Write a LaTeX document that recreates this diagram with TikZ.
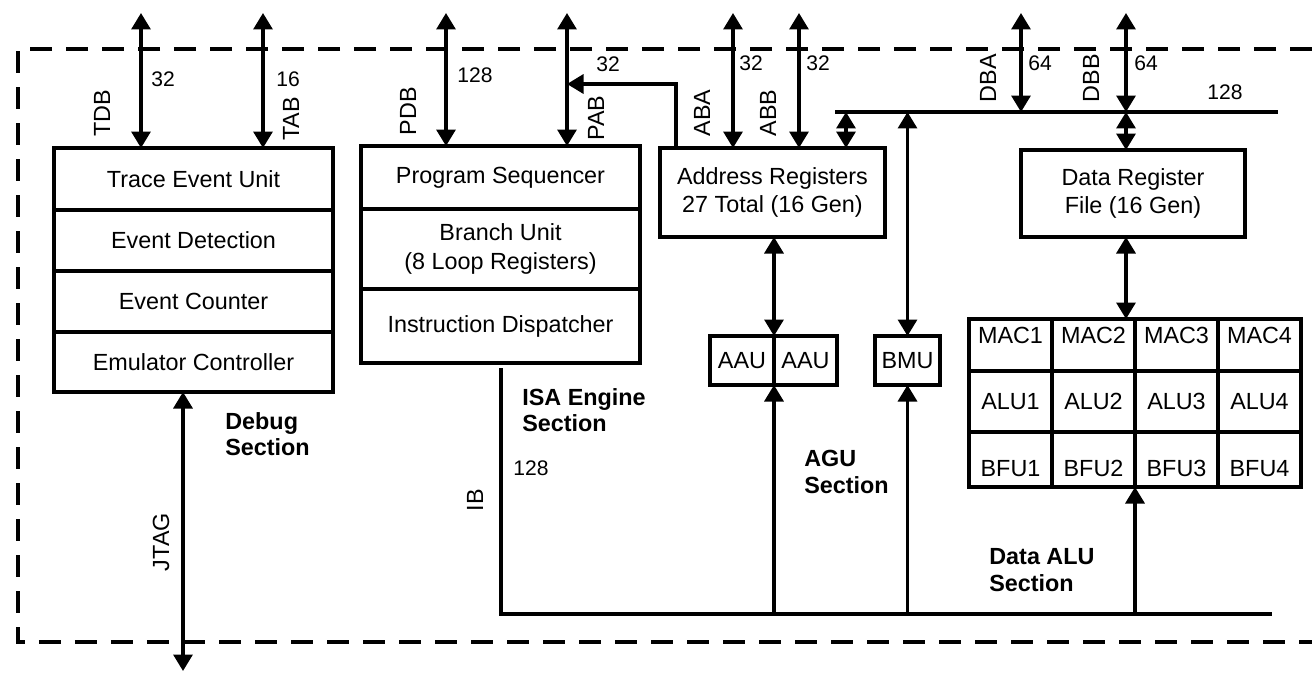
\documentclass[tikz,border=0pt]{standalone}
\usepackage{fontspec}
\setmainfont{Liberation Sans}
\usetikzlibrary{arrows.meta,positioning,calc}
\def\pxu{0.02cm}
\tikzset{
  blk/.style={draw, line width=1.9pt, inner sep=0pt, outer sep=0pt, align=center,
    font=\fontsize{13.3}{16}\selectfont},
  cell/.style={blk, minimum width=83*\pxu},
  lbl/.style={font=\fontsize{12}{14}\selectfont, inner sep=0pt, anchor=west},
  vlbl/.style={font=\fontsize{13.3}{16}\selectfont, inner sep=0pt, rotate=90},
  sect/.style={font=\bfseries\fontsize{13.3}{15}\selectfont, align=left, anchor=west, inner sep=0pt},
  wire/.style={line width=1.9pt},
  bi/.style={wire, {Triangle[length=0.33cm,width=0.38cm]}-{Triangle[length=0.33cm,width=0.38cm]}},
  uni/.style={wire, -{Triangle[length=0.33cm,width=0.38cm]}},
  border/.style={line width=1.9pt, dash pattern=on 22*\pxu off 14*\pxu},
}
\begin{document}
\begin{tikzpicture}[x=0.02cm, y=-0.02cm]
  \useasboundingbox (0,0) rectangle (1312,673);
  % section outline
  \draw[border] (1312,49) -- (18,49) -- (18,642) -- (1312,642);

  % debug section
  \node[blk, minimum width=279*\pxu, minimum height=62*\pxu, anchor=north] (trace) at (193.5,148) {Trace Event Unit};
  \node[blk, minimum width=279*\pxu, minimum height=61*\pxu, below=0pt of trace] (detect) {Event Detection};
  \node[blk, minimum width=279*\pxu, minimum height=61*\pxu, below=0pt of detect] (counter) {Event Counter};
  \node[blk, minimum width=279*\pxu, minimum height=60*\pxu, below=0pt of counter] (emu) {Emulator Controller};
  \node[sect] (dbgSec) at (225,434) {Debug\\Section};

  % ISA engine section
  \node[blk, minimum width=279*\pxu, minimum height=63*\pxu, anchor=north] (seq) at (500.5,146) {Program Sequencer};
  \node[blk, minimum width=279*\pxu, minimum height=80*\pxu, below=0pt of seq] (branch) {Branch Unit\\(8 Loop Registers)};
  \node[blk, minimum width=279*\pxu, minimum height=74*\pxu, below=0pt of branch] (disp) {Instruction Dispatcher};
  \node[sect] (isaSec) at (522,410) {ISA Engine\\Section};

  % AGU section
  \node[blk, minimum width=225*\pxu, minimum height=89*\pxu] (addr) at (772.5,192.5) {Address Registers\\27 Total (16 Gen)};
  \node[blk, minimum width=64*\pxu, minimum height=49*\pxu] (aau1) at (742,360.5) {AAU};
  \node[blk, minimum width=63*\pxu, minimum height=49*\pxu, right=0pt of aau1] (aau2) {AAU};
  \node[blk, minimum width=65*\pxu, minimum height=49*\pxu] (bmu) at (907.5,360.5) {BMU};
  \node[sect] (aguSec) at (804,472) {AGU\\Section};

  % data ALU section
  \node[blk, minimum width=224*\pxu, minimum height=87*\pxu] (dreg) at (1133,193.5) {Data Register\\File (16 Gen)};
  \foreach \nm/\yc/\h/\th/\td in {MAC/345/52/9.5pt/20*\pxu, ALU/401.5/61/9.5pt/0pt, BFU/459.5/55/19pt/0pt}
    \foreach \c in {1,...,4}
      \node[cell, minimum height=\h*\pxu, text height=\th, text depth=\td] (\nm\c) at ({969+83*(\c-0.5)},\yc) {\nm\c};
  \node[sect] (aluSec) at (989,570) {Data ALU\\Section};

  % external buses
  \coordinate (tdbTop) at (141,13);
  \coordinate (tabTop) at (263,13);
  \coordinate (pdbTop) at (446,13);
  \coordinate (pabTop) at (567,13);
  \coordinate (abaTop) at (733,13);
  \coordinate (abbTop) at (799,13);
  \coordinate (dbaTop) at (1021,13);
  \coordinate (dbbTop) at (1126,13);
  \coordinate (jtagBot) at (183,671);
  \draw[bi] (tdbTop) -- (tdbTop |- trace.north);
  \draw[bi] (tabTop) -- (tabTop |- trace.north);
  \draw[bi] (pdbTop) -- (pdbTop |- seq.north);
  \draw[bi] (pabTop) -- (pabTop |- seq.north);
  \draw[bi] (abaTop) -- (abaTop |- addr.north);
  \draw[bi] (abbTop) -- (abbTop |- addr.north);
  \draw[bi] (emu.south -| jtagBot) -- (jtagBot);

  \node[lbl] (tdbW) at (151,79) {32};
  \node[vlbl] (tdbN) at (102,113) {TDB};
  \node[lbl] (tabW) at (276,79) {16};
  \node[vlbl] (tabN) at (291,119) {TAB};
  \node[lbl] (pdbW) at (457,75) {128};
  \node[vlbl] (pdbN) at (408,111) {PDB};
  \node[lbl] (pabW) at (596,64) {32};
  \node[vlbl] (pabN) at (596,118) {PAB};
  \node[lbl] (abaW) at (739,63) {32};
  \node[vlbl] (abaN) at (702,113) {ABA};
  \node[lbl] (abbW) at (806,63) {32};
  \node[vlbl] (abbN) at (768,113) {ABB};
  \node[lbl] (dbaW) at (1028,63) {64};
  \node[vlbl] (dbaN) at (988,78) {DBA};
  \node[lbl] (dbbW) at (1134,63) {64};
  \node[vlbl] (dbbN) at (1091,78) {DBB};
  \node[vlbl] (jtagN) at (161,542) {JTAG};

  % address registers to PAB
  \coordinate (pabTurn) at (676,84);
  \draw[uni] (addr.north -| pabTurn) -- (pabTurn) -- (pabTurn -| pabTop);

  % internal data bus
  \coordinate (dbL) at (835,112);
  \coordinate (dbR) at (1278,112);
  \draw[wire] (dbL) -- (dbR);
  \node[lbl] (dbW) at (1207,92) {128};
  \draw[bi] (dbaTop) -- (dbaTop |- dbL);
  \draw[bi] (dbbTop) -- (dbbTop |- dbL);
  \draw[bi] (dbbTop |- dbL) -- (dbbTop |- dreg.north);
  \draw[bi] (846,112) -- (addr.north -| 846,0);
  \draw[bi] (bmu.north |- dbL) -- (bmu.north);
  \draw[bi] (addr.south -| aau1.north east) -- (aau1.north east);
  \draw[bi] (dreg.south -| dbbTop) -- (MAC2.north -| dbbTop);

  % instruction bus
  \coordinate (ibTop) at (501,368);
  \coordinate (ibBot) at (501,614);
  \coordinate (ibEnd) at (1272,614);
  \draw[wire] (ibTop) -- (ibBot) -- (ibEnd);
  \node[vlbl] (ibN) at (475,500) {IB};
  \node[lbl] (ibW) at (513,468) {128};
  \draw[uni] (aau1.south east |- ibBot) -- (aau1.south east);
  \draw[uni] (bmu.south |- ibBot) -- (bmu.south);
  \draw[uni] (BFU2.south east |- ibBot) -- (BFU2.south east);
\end{tikzpicture}
\end{document}
